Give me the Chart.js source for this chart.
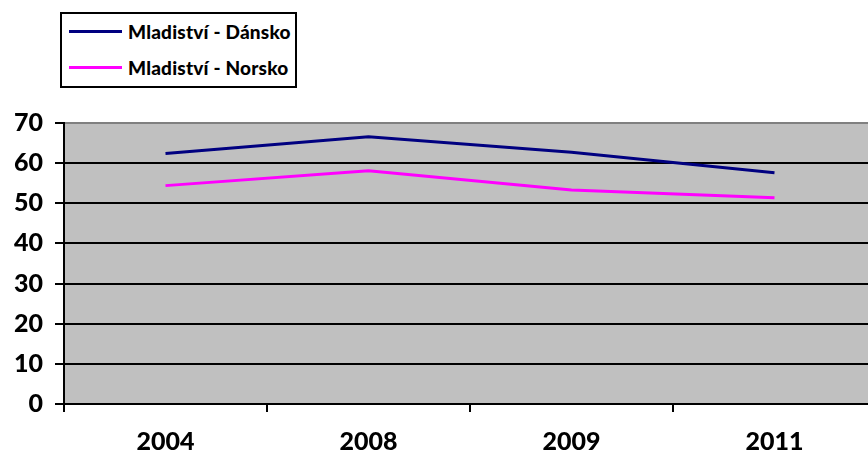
<!DOCTYPE html>
<html>
<head>
<meta charset="utf-8">
<script src="https://cdn.jsdelivr.net/npm/chart.js@4/dist/chart.umd.min.js"></script>
<style>
html,body{margin:0;padding:0;background:#fff;overflow:hidden;width:868px;height:463px;}
#wrap{position:relative;width:880px;height:463px;}
#legend{position:absolute;left:60px;top:12px;width:233px;height:72px;border:2px solid #000;background:#fff;font-family:Lato,"Open Sans",sans-serif;font-weight:900;font-size:19px;letter-spacing:0.2px;color:#000;}
.item{position:absolute;left:7px;display:flex;align-items:center;height:24px;}
.sw{width:53px;height:3px;margin-right:6px;}
</style>
</head>
<body>
<div id="wrap">
<canvas id="c" width="880" height="463"></canvas>
<div id="legend"></div>
</div>
<script>
const categories = ["2004", "2008", "2009", "2011"];
const seriesNames = ["Mladiství - Dánsko", "Mladiství - Norsko"];
const denmark = [62.4, 66.6, 62.7, 57.6];
const norway = [54.4, 58.1, 53.3, 51.4];
const yTicks = [0, 10, 20, 30, 40, 50, 60, 70];
const colors = ["#000080", "#FF00FF"];

const bgPlugin = {
  id: 'bg',
  beforeDraw(chart) {
    const a = chart.chartArea, ctx = chart.ctx;
    ctx.save();
    ctx.fillStyle = '#C0C0C0';
    ctx.fillRect(a.left, a.top, a.right - a.left, a.bottom - a.top);
    ctx.restore();
  }
};

const font = {family: 'Lato, "Open Sans", sans-serif', weight: '900', size: 25};

new Chart(document.getElementById('c'), {
  type: 'line',
  data: {
    labels: categories,
    datasets: [
      {label: seriesNames[0], data: denmark, borderColor: colors[0], backgroundColor: colors[0], borderWidth: 3, pointRadius: 0, tension: 0},
      {label: seriesNames[1], data: norway, borderColor: colors[1], backgroundColor: colors[1], borderWidth: 3, pointRadius: 0, tension: 0}
    ]
  },
  options: {
    responsive: false,
    animation: false,
    layout: {padding: {top: 123, right: 4, left: 0, bottom: 0}},
    plugins: {legend: {display: false}, tooltip: {enabled: false}},
    scales: {
      x: {
        offset: true,
        grid: {offset: true, drawOnChartArea: false, drawTicks: true, tickLength: 8, color: '#000', lineWidth: 2},
        border: {color: '#000', width: 2},
        ticks: {color: '#000', font: font, padding: 15, maxRotation: 0},
        afterFit(s) { s.height = 59; }
      },
      y: {
        min: 0, max: 70,
        afterBuildTicks(s) { s.ticks = yTicks.map(v => ({value: v})); },
        grid: {
          color: ctx => (ctx.tick && ctx.tick.value === 70) ? '#808080' : '#000',
          lineWidth: 2, tickLength: 9, drawTicks: true,
          tickColor: '#000'
        },
        border: {color: '#000', width: 2},
        ticks: {color: '#000', font: font, padding: 12},
        afterFit(s) { s.width = 64; }
      }
    }
  },
  plugins: [bgPlugin]
});

const lg = document.getElementById('legend');
seriesNames.forEach((n, i) => {
  const d = document.createElement('div');
  d.className = 'item';
  d.style.top = (i === 0 ? 5 : 41) + 'px';
  d.innerHTML = '<span class="sw" style="background:' + colors[i] + '"></span><span></span>';
  d.lastChild.textContent = n;
  lg.appendChild(d);
});
</script>
</body>
</html>
